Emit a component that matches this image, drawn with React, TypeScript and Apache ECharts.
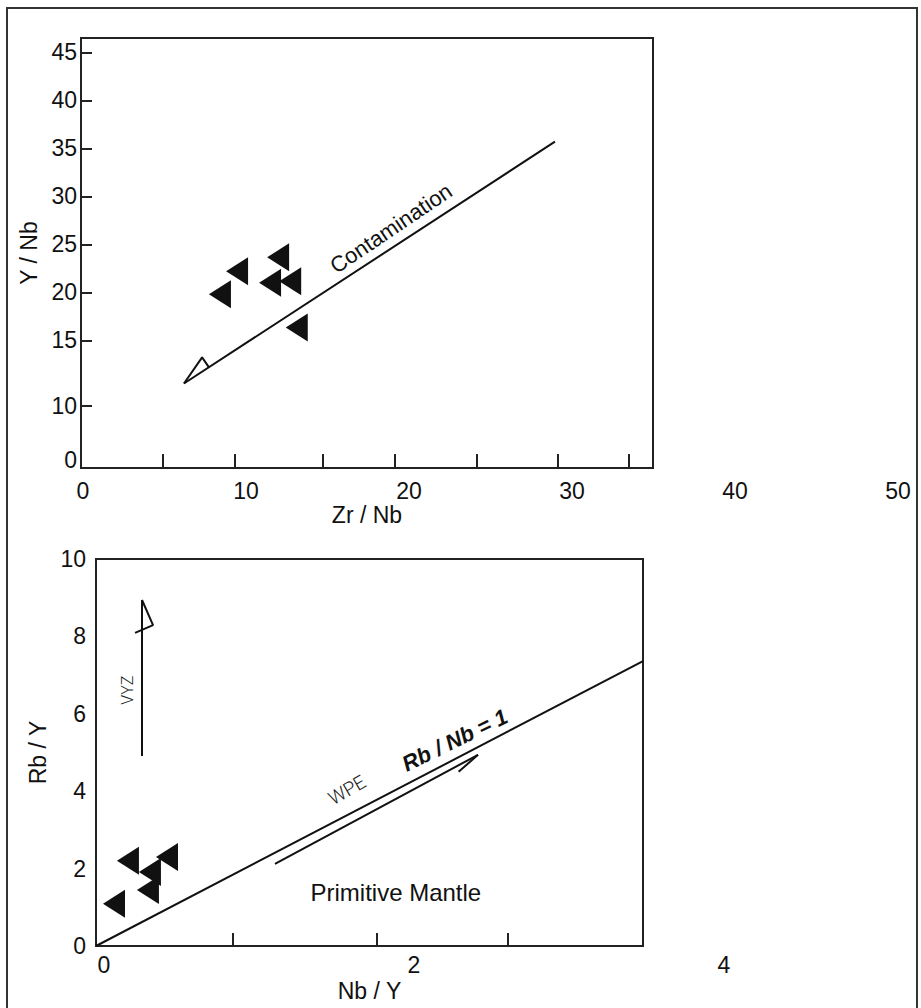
import React, { useEffect, useRef } from "react";
import * as echarts from "echarts";

// ---------- Top panel: Zr/Nb vs Y/Nb ----------
const TOP_ZR_NB = [8.5, 9.55, 12.06, 11.57, 12.8, 13.2];
const TOP_Y_NB = [19.8, 22.2, 23.65, 21.0, 21.15, 16.35];

const CONTAM_X = [6.3, 29.0];
const CONTAM_Y = [10.5, 35.7];
const CONTAM_HEAD_X = [6.3, 7.41, 7.83];
const CONTAM_HEAD_Y = [10.5, 13.23, 12.19];

const TOP_X_MIN = 0;
const TOP_X_MAX = 35;
const TOP_X_TICKS = [5, 9.4, 14.8, 19.2, 24.2, 29.2, 33.5];
const TOP_X_LABELS = [0, 10, 20, 30, 40, 50];
const TOP_Y_MIN = 1.7;
const TOP_Y_MAX = 46.5;
const TOP_Y_TICKS = [8.2, 15, 20, 25, 30, 35, 40, 45];
const TOP_Y_LABEL_POS = [2.5, 8.2, 15, 20, 25, 30, 35, 40, 45];
const TOP_Y_LABEL_TEXT = ["0", "10", "15", "20", "25", "30", "35", "40", "45"];

const TOP_NOTE_TEXT = ["Contamination"];
const TOP_NOTE_X = [18.97];
const TOP_NOTE_Y = [26.67];

// ---------- Bottom panel: Nb/Y vs Rb/Y ----------
const BOT_NB_Y = [0.206, 0.458, 0.348, 0.335, 0.116];
const BOT_RB_Y = [2.2, 2.3, 1.91, 1.45, 1.09];

const RBNB_X = [0, 3.53];
const RBNB_Y = [0, 7.36];
const WPE_X = [1.155, 2.465];
const WPE_Y = [2.12, 4.94];
const WPE_HEAD_X = [2.34, 2.465];
const WPE_HEAD_Y = [4.5, 4.94];
const VYZ_X = [0.297, 0.297];
const VYZ_Y = [4.91, 8.94];
const VYZ_HEAD_X = [0.297, 0.368, 0.252];
const VYZ_HEAD_Y = [8.94, 8.29, 8.09];

const BOT_X_MIN = 0;
const BOT_X_MAX = 3.53;
const BOT_X_TICKS = [0.88, 1.81, 2.66];
const BOT_X_LABELS = [0, 2, 4];
const BOT_Y_LABELS = [0, 2, 4, 6, 8, 10];

const BOT_NOTE_TEXT = ["WPE", "Rb / Nb = 1", "VYZ", "Primitive Mantle"];
const BOT_NOTE_X = [1.62, 2.316, 0.206, 1.935];
const BOT_NOTE_Y = [4.03, 5.32, 6.61, 1.37];

const FONT = '"Liberation Sans", Arial, Helvetica, sans-serif';
const INK = "#111";
const BOX = "#222";

const zip = (xs: number[], ys: number[]) => xs.map((x, i) => [x, ys[i]]);

const lineSeries = (data: number[][], gi: number) => ({
  type: "line",
  xAxisIndex: gi,
  yAxisIndex: gi,
  data,
  symbol: "none",
  silent: true,
  lineStyle: { color: INK, width: 2, opacity: 1 },
  z: 3,
});

const triSeries = (xs: number[], ys: number[], gi: number) => ({
  type: "scatter",
  xAxisIndex: gi,
  yAxisIndex: gi,
  data: zip(xs, ys),
  symbol: "triangle",
  symbolSize: [28, 22],
  symbolRotate: 90,
  itemStyle: { color: INK, opacity: 1 },
  z: 5,
});

export default function App() {
  const ref = useRef<HTMLDivElement>(null);

  useEffect(() => {
    if (!ref.current) return;
    const chart = echarts.init(ref.current, undefined, { renderer: "svg" });

    const topNotes = TOP_NOTE_TEXT.map((t, i) => ({
      name: t,
      value: [TOP_NOTE_X[i], TOP_NOTE_Y[i]],
      label: { rotate: 34, fontSize: 22, color: INK, fontFamily: FONT },
    }));

    const botStyles = [
      { rotate: 30, fontSize: 19, color: "#222", fontFamily: "Roboto, " + FONT, fontWeight: 300 },
      {
        rotate: 26,
        fontSize: 22,
        color: INK,
        fontFamily: '"Liberation Sans Narrow", ' + FONT,
        fontWeight: "bold",
        fontStyle: "italic",
      },
      { rotate: 90, fontSize: 16, color: "#222", fontFamily: "Roboto, " + FONT, fontWeight: 300 },
      { rotate: 0, fontSize: 24, color: INK, fontFamily: FONT },
    ];
    const botNotes = BOT_NOTE_TEXT.map((t, i) => ({
      name: t,
      value: [BOT_NOTE_X[i], BOT_NOTE_Y[i]],
      label: botStyles[i],
    }));

    const noteSeries = (data: any[], gi: number) => ({
      type: "scatter",
      xAxisIndex: gi,
      yAxisIndex: gi,
      data,
      symbolSize: 1,
      itemStyle: { color: "transparent", opacity: 1 },
      silent: true,
      label: { show: true, position: "inside", formatter: "{b}", align: "center", verticalAlign: "middle", opacity: 1 },
      z: 6,
    });

    const nameStyle = { fontSize: 23, color: INK, fontFamily: FONT };
    const labelStyle = { fontSize: 23, color: INK, fontFamily: FONT };

    const option: any = {
      animation: false,
      backgroundColor: "#ffffff",
      graphic: [
        {
          type: "rect",
          silent: true,
          shape: { x: 7, y: 8, width: 910, height: 1015 },
          style: { fill: "transparent", stroke: "#333", lineWidth: 2 },
          z: 0,
        },
      ],
      grid: [
        { left: 81, top: 38, width: 572, height: 430, show: true, borderColor: BOX, borderWidth: 2, backgroundColor: "transparent" },
        { left: 83, top: 38, width: 815, height: 430, show: false },
        { left: 96, top: 559, width: 547, height: 387, show: true, borderColor: BOX, borderWidth: 2, backgroundColor: "transparent" },
        { left: 104, top: 559, width: 620, height: 387, show: false },
      ],
      xAxis: [
        {
          gridIndex: 0,
          type: "value",
          min: TOP_X_MIN,
          max: TOP_X_MAX,
          axisLine: { show: true, lineStyle: { color: BOX, width: 2 } },
          axisTick: { show: true, inside: true, length: 14, customValues: TOP_X_TICKS, lineStyle: { color: BOX, width: 2 } },
          axisLabel: { show: false },
          splitLine: { show: false },
          name: "Zr / Nb",
          nameLocation: "middle",
          nameGap: 35,
          nameTextStyle: nameStyle,
        },
        {
          gridIndex: 1,
          type: "value",
          min: 0,
          max: 50,
          axisLine: { show: false },
          axisTick: { show: false },
          axisLabel: { show: true, customValues: TOP_X_LABELS, margin: 11, ...labelStyle },
          splitLine: { show: false },
        },
        {
          gridIndex: 2,
          type: "value",
          min: BOT_X_MIN,
          max: BOT_X_MAX,
          axisLine: { show: true, lineStyle: { color: BOX, width: 2 } },
          axisTick: { show: true, inside: true, length: 13, customValues: BOT_X_TICKS, lineStyle: { color: BOX, width: 2 } },
          axisLabel: { show: false },
          splitLine: { show: false },
          name: "Nb / Y",
          nameLocation: "middle",
          nameGap: 33,
          nameTextStyle: nameStyle,
        },
        {
          gridIndex: 3,
          type: "value",
          min: 0,
          max: 4,
          axisLine: { show: false },
          axisTick: { show: false },
          axisLabel: { show: true, customValues: BOT_X_LABELS, margin: 7, ...labelStyle },
          splitLine: { show: false },
        },
      ],
      yAxis: [
        {
          gridIndex: 0,
          type: "value",
          min: TOP_Y_MIN,
          max: TOP_Y_MAX,
          axisLine: { show: true, lineStyle: { color: BOX, width: 2 } },
          axisTick: { show: true, inside: true, length: 11, customValues: TOP_Y_TICKS, lineStyle: { color: BOX, width: 2 } },
          axisLabel: {
            show: true,
            customValues: TOP_Y_LABEL_POS,
            margin: 4,
            ...labelStyle,
            formatter: (v: number) => {
              const i = TOP_Y_LABEL_POS.findIndex((p) => Math.abs(p - v) < 1e-6);
              return i >= 0 ? TOP_Y_LABEL_TEXT[i] : "";
            },
          },
          splitLine: { show: false },
          name: "Y / Nb",
          nameLocation: "middle",
          nameRotate: 90,
          nameGap: 40,
          nameTextStyle: nameStyle,
        },
        { gridIndex: 1, type: "value", min: 0, max: 1, show: false },
        {
          gridIndex: 2,
          type: "value",
          min: 0,
          max: 10,
          axisLine: { show: true, lineStyle: { color: BOX, width: 2 } },
          axisTick: { show: false },
          axisLabel: { show: true, customValues: BOT_Y_LABELS, margin: 10, ...labelStyle },
          splitLine: { show: false },
          name: "Rb / Y",
          nameLocation: "middle",
          nameRotate: 90,
          nameGap: 28,
          nameTextStyle: nameStyle,
        },
        { gridIndex: 3, type: "value", min: 0, max: 1, show: false },
      ],
      series: [
        lineSeries(zip(CONTAM_X, CONTAM_Y), 0),
        lineSeries(zip(CONTAM_HEAD_X, CONTAM_HEAD_Y), 0),
        triSeries(TOP_ZR_NB, TOP_Y_NB, 0),
        noteSeries(topNotes, 0),
        lineSeries(zip(RBNB_X, RBNB_Y), 2),
        lineSeries(zip(WPE_X, WPE_Y), 2),
        lineSeries(zip(WPE_HEAD_X, WPE_HEAD_Y), 2),
        lineSeries(zip(VYZ_X, VYZ_Y), 2),
        lineSeries(zip(VYZ_HEAD_X, VYZ_HEAD_Y), 2),
        triSeries(BOT_NB_Y, BOT_RB_Y, 2),
        noteSeries(botNotes, 2),
      ],
    };

    chart.setOption(option);
    return () => chart.dispose();
  }, []);

  return (
    <div
      ref={ref}
      style={{ position: "fixed", left: 0, top: 0, width: 921, height: 1008, background: "#fff" }}
    />
  );
}
